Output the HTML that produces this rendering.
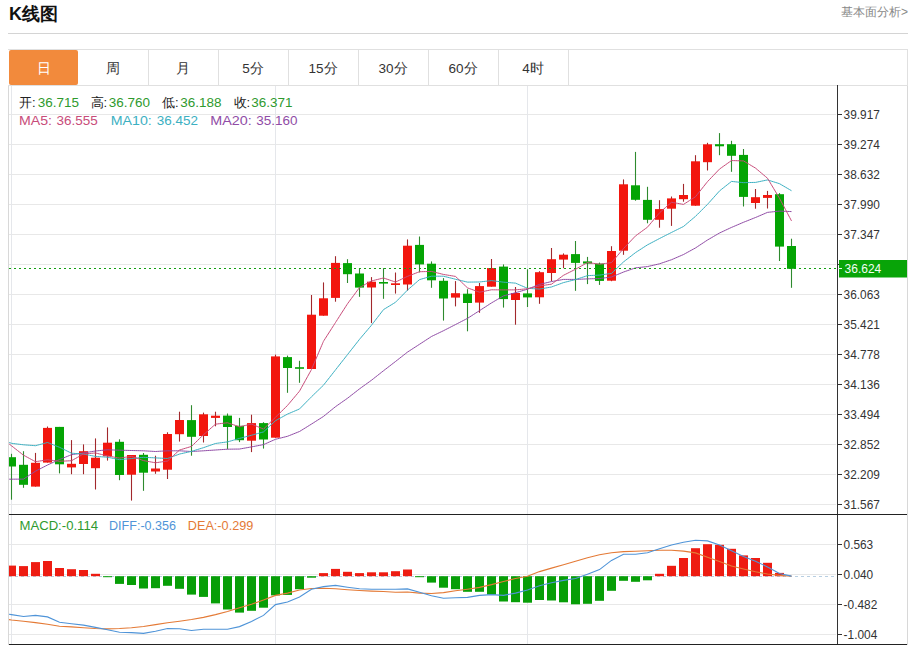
<!DOCTYPE html>
<html><head><meta charset="utf-8"><style>
html,body{margin:0;padding:0;background:#fff;width:910px;height:646px;overflow:hidden;position:relative;font-family:"Liberation Sans",sans-serif}
.title{position:absolute;left:9px;top:2px;font-size:18px;font-weight:bold;color:#111;line-height:24px}
.more{position:absolute;right:2px;top:3.6px;font-size:12px;color:#888;line-height:16px}
.hr{position:absolute;left:8px;top:33px;width:900px;height:1px;background:#d4d4d4}
.tabs{position:absolute;left:8px;top:49px;width:899px;height:35px;border:1px solid #e0e0e0;border-left:none}
.tab{position:absolute;top:0;height:35px;width:70px;border-right:1px solid #e0e0e0;text-align:center;line-height:37.5px;font-size:13.5px;color:#333}
.tab.on{background:#f28a3c;color:#fff;border-radius:2px;border-right:none}
.panel{position:absolute;left:8px;top:85px;width:898px;height:560px;border-left:1px solid #d8d8d8;border-right:1px solid #d8d8d8}
.info{position:absolute;left:19px;font-size:13px;line-height:16px;white-space:nowrap}
.k{color:#222} .g{color:#2e9a2e}
</style></head><body>
<div class="title">K线图</div>
<div class="more">基本面分析&gt;</div>
<div class="hr"></div>
<div class="panel"></div>
<div class="tabs">
<div class="tab on" style="left:1px;width:69px">日</div>
<div class="tab" style="left:70px">周</div>
<div class="tab" style="left:140px">月</div>
<div class="tab" style="left:210px">5分</div>
<div class="tab" style="left:280px">15分</div>
<div class="tab" style="left:350px">30分</div>
<div class="tab" style="left:420px">60分</div>
<div class="tab" style="left:490px">4时</div>
</div>
<svg width="910" height="646" style="position:absolute;left:0;top:0"><defs><clipPath id="cm"><rect x="9" y="86" width="828" height="428"/></clipPath><clipPath id="cd"><rect x="9" y="515" width="828" height="129"/></clipPath></defs><line x1="9" y1="114.5" x2="836" y2="114.5" stroke="#e8e8e8" stroke-width="1"/><line x1="9" y1="144.5" x2="836" y2="144.5" stroke="#e8e8e8" stroke-width="1"/><line x1="9" y1="174.5" x2="836" y2="174.5" stroke="#e8e8e8" stroke-width="1"/><line x1="9" y1="204.5" x2="836" y2="204.5" stroke="#e8e8e8" stroke-width="1"/><line x1="9" y1="234.5" x2="836" y2="234.5" stroke="#e8e8e8" stroke-width="1"/><line x1="9" y1="264.5" x2="836" y2="264.5" stroke="#e8e8e8" stroke-width="1"/><line x1="9" y1="294.5" x2="836" y2="294.5" stroke="#e8e8e8" stroke-width="1"/><line x1="9" y1="324.5" x2="836" y2="324.5" stroke="#e8e8e8" stroke-width="1"/><line x1="9" y1="354.5" x2="836" y2="354.5" stroke="#e8e8e8" stroke-width="1"/><line x1="9" y1="384.5" x2="836" y2="384.5" stroke="#e8e8e8" stroke-width="1"/><line x1="9" y1="414.5" x2="836" y2="414.5" stroke="#e8e8e8" stroke-width="1"/><line x1="9" y1="444.5" x2="836" y2="444.5" stroke="#e8e8e8" stroke-width="1"/><line x1="9" y1="474.5" x2="836" y2="474.5" stroke="#e8e8e8" stroke-width="1"/><line x1="9" y1="504.5" x2="836" y2="504.5" stroke="#e8e8e8" stroke-width="1"/><line x1="9" y1="544.5" x2="836" y2="544.5" stroke="#e8e8e8" stroke-width="1"/><line x1="9" y1="574.5" x2="836" y2="574.5" stroke="#e8e8e8" stroke-width="1"/><line x1="9" y1="604.5" x2="836" y2="604.5" stroke="#e8e8e8" stroke-width="1"/><line x1="9" y1="634.5" x2="836" y2="634.5" stroke="#e8e8e8" stroke-width="1"/><line x1="11.5" y1="86" x2="11.5" y2="644" stroke="#e5e7eb" stroke-width="1"/><line x1="275.5" y1="86" x2="275.5" y2="644" stroke="#e5e7eb" stroke-width="1"/><line x1="527.5" y1="86" x2="527.5" y2="644" stroke="#e5e7eb" stroke-width="1"/><g clip-path="url(#cm)"><line x1="11.5" y1="453.8" x2="11.5" y2="499.7" stroke="#2e8a2e" stroke-width="1.1"/><rect x="7.0" y="457.2" width="9" height="9.3" fill="#04a404"/><line x1="23.5" y1="451.2" x2="23.5" y2="487.8" stroke="#2e8a2e" stroke-width="1.1"/><rect x="19.0" y="464.8" width="9" height="20.0" fill="#04a404"/><line x1="35.5" y1="452.9" x2="35.5" y2="486.6" stroke="#a2282c" stroke-width="1.1"/><rect x="31.0" y="462.8" width="9" height="23.8" fill="#f2160e"/><line x1="47.5" y1="426.5" x2="47.5" y2="462.6" stroke="#a2282c" stroke-width="1.1"/><rect x="43.0" y="427.9" width="9" height="34.7" fill="#f2160e"/><line x1="59.5" y1="426.9" x2="59.5" y2="473.4" stroke="#2e8a2e" stroke-width="1.1"/><rect x="55.0" y="426.9" width="9" height="37.4" fill="#04a404"/><line x1="71.5" y1="440.1" x2="71.5" y2="474.2" stroke="#a2282c" stroke-width="1.1"/><rect x="67.0" y="463.8" width="9" height="3.6" fill="#f2160e"/><line x1="83.5" y1="444.4" x2="83.5" y2="474.2" stroke="#a2282c" stroke-width="1.1"/><rect x="79.0" y="451.2" width="9" height="12.8" fill="#f2160e"/><line x1="95.5" y1="438.4" x2="95.5" y2="489.5" stroke="#a2282c" stroke-width="1.1"/><rect x="91.0" y="457.7" width="9" height="10.5" fill="#f2160e"/><line x1="107.5" y1="427.4" x2="107.5" y2="460.6" stroke="#a2282c" stroke-width="1.1"/><rect x="103.0" y="442.7" width="9" height="13.6" fill="#f2160e"/><line x1="119.5" y1="439.3" x2="119.5" y2="480.2" stroke="#2e8a2e" stroke-width="1.1"/><rect x="115.0" y="441.8" width="9" height="33.2" fill="#04a404"/><line x1="131.5" y1="455.0" x2="131.5" y2="500.6" stroke="#a2282c" stroke-width="1.1"/><rect x="127.0" y="455.0" width="9" height="19.7" fill="#f2160e"/><line x1="143.5" y1="453.0" x2="143.5" y2="490.8" stroke="#2e8a2e" stroke-width="1.1"/><rect x="139.0" y="454.8" width="9" height="17.9" fill="#04a404"/><line x1="155.5" y1="455.7" x2="155.5" y2="473.8" stroke="#a2282c" stroke-width="1.1"/><rect x="151.0" y="468.5" width="9" height="3.0" fill="#f2160e"/><line x1="167.5" y1="432.3" x2="167.5" y2="479.0" stroke="#a2282c" stroke-width="1.1"/><rect x="163.0" y="434.0" width="9" height="35.7" fill="#f2160e"/><line x1="179.5" y1="411.7" x2="179.5" y2="441.6" stroke="#a2282c" stroke-width="1.1"/><rect x="175.0" y="420.0" width="9" height="14.2" fill="#f2160e"/><line x1="191.5" y1="405.2" x2="191.5" y2="455.7" stroke="#2e8a2e" stroke-width="1.1"/><rect x="187.0" y="420.1" width="9" height="16.7" fill="#04a404"/><line x1="203.5" y1="412.6" x2="203.5" y2="442.5" stroke="#a2282c" stroke-width="1.1"/><rect x="199.0" y="414.3" width="9" height="21.7" fill="#f2160e"/><line x1="215.5" y1="411.7" x2="215.5" y2="426.3" stroke="#a2282c" stroke-width="1.1"/><rect x="211.0" y="415.7" width="9" height="2.2" fill="#f2160e"/><line x1="227.5" y1="413.5" x2="227.5" y2="449.2" stroke="#2e8a2e" stroke-width="1.1"/><rect x="223.0" y="415.6" width="9" height="11.4" fill="#04a404"/><line x1="239.5" y1="417.9" x2="239.5" y2="442.1" stroke="#2e8a2e" stroke-width="1.1"/><rect x="235.0" y="425.8" width="9" height="14.4" fill="#04a404"/><line x1="251.5" y1="414.7" x2="251.5" y2="452.1" stroke="#a2282c" stroke-width="1.1"/><rect x="247.0" y="423.1" width="9" height="17.6" fill="#f2160e"/><line x1="263.5" y1="422.2" x2="263.5" y2="448.6" stroke="#2e8a2e" stroke-width="1.1"/><rect x="259.0" y="423.1" width="9" height="16.4" fill="#04a404"/><line x1="275.5" y1="354.6" x2="275.5" y2="437.7" stroke="#a2282c" stroke-width="1.1"/><rect x="271.0" y="356.4" width="9" height="81.3" fill="#f2160e"/><line x1="287.5" y1="355.6" x2="287.5" y2="392.8" stroke="#2e8a2e" stroke-width="1.1"/><rect x="283.0" y="357.1" width="9" height="10.9" fill="#04a404"/><line x1="299.5" y1="360.8" x2="299.5" y2="382.8" stroke="#2e8a2e" stroke-width="1.1"/><rect x="295.0" y="367.2" width="9" height="1.6" fill="#04a404"/><line x1="311.5" y1="295.0" x2="311.5" y2="369.0" stroke="#a2282c" stroke-width="1.1"/><rect x="307.0" y="314.7" width="9" height="54.3" fill="#f2160e"/><line x1="323.5" y1="282.4" x2="323.5" y2="315.7" stroke="#a2282c" stroke-width="1.1"/><rect x="319.0" y="298.3" width="9" height="17.4" fill="#f2160e"/><line x1="335.5" y1="256.2" x2="335.5" y2="301.7" stroke="#a2282c" stroke-width="1.1"/><rect x="331.0" y="262.9" width="9" height="35.0" fill="#f2160e"/><line x1="347.5" y1="259.2" x2="347.5" y2="283.0" stroke="#2e8a2e" stroke-width="1.1"/><rect x="343.0" y="263.1" width="9" height="11.1" fill="#04a404"/><line x1="359.5" y1="268.1" x2="359.5" y2="296.8" stroke="#2e8a2e" stroke-width="1.1"/><rect x="355.0" y="273.5" width="9" height="14.1" fill="#04a404"/><line x1="371.5" y1="277.1" x2="371.5" y2="323.1" stroke="#a2282c" stroke-width="1.1"/><rect x="367.0" y="281.7" width="9" height="5.8" fill="#f2160e"/><line x1="383.5" y1="268.1" x2="383.5" y2="298.8" stroke="#2e8a2e" stroke-width="1.1"/><rect x="379.0" y="282.0" width="9" height="1.6" fill="#04a404"/><line x1="395.5" y1="272.5" x2="395.5" y2="293.6" stroke="#a2282c" stroke-width="1.1"/><rect x="391.0" y="283.3" width="9" height="1.7" fill="#f2160e"/><line x1="407.5" y1="239.4" x2="407.5" y2="290.7" stroke="#a2282c" stroke-width="1.1"/><rect x="403.0" y="245.7" width="9" height="38.8" fill="#f2160e"/><line x1="419.5" y1="236.5" x2="419.5" y2="272.4" stroke="#2e8a2e" stroke-width="1.1"/><rect x="415.0" y="244.9" width="9" height="19.5" fill="#04a404"/><line x1="431.5" y1="261.4" x2="431.5" y2="287.8" stroke="#2e8a2e" stroke-width="1.1"/><rect x="427.0" y="263.7" width="9" height="16.6" fill="#04a404"/><line x1="443.5" y1="278.1" x2="443.5" y2="320.6" stroke="#2e8a2e" stroke-width="1.1"/><rect x="439.0" y="280.8" width="9" height="17.7" fill="#04a404"/><line x1="455.5" y1="281.1" x2="455.5" y2="306.4" stroke="#a2282c" stroke-width="1.1"/><rect x="451.0" y="293.2" width="9" height="4.4" fill="#f2160e"/><line x1="467.5" y1="289.2" x2="467.5" y2="331.3" stroke="#2e8a2e" stroke-width="1.1"/><rect x="463.0" y="293.7" width="9" height="9.3" fill="#04a404"/><line x1="479.5" y1="283.0" x2="479.5" y2="312.8" stroke="#a2282c" stroke-width="1.1"/><rect x="475.0" y="286.1" width="9" height="16.5" fill="#f2160e"/><line x1="491.5" y1="259.0" x2="491.5" y2="286.7" stroke="#a2282c" stroke-width="1.1"/><rect x="487.0" y="268.1" width="9" height="18.6" fill="#f2160e"/><line x1="503.5" y1="264.4" x2="503.5" y2="307.6" stroke="#2e8a2e" stroke-width="1.1"/><rect x="499.0" y="266.6" width="9" height="32.5" fill="#04a404"/><line x1="515.5" y1="287.0" x2="515.5" y2="324.7" stroke="#a2282c" stroke-width="1.1"/><rect x="511.0" y="293.0" width="9" height="7.0" fill="#f2160e"/><line x1="527.5" y1="269.3" x2="527.5" y2="307.0" stroke="#2e8a2e" stroke-width="1.1"/><rect x="523.0" y="293.4" width="9" height="4.0" fill="#04a404"/><line x1="539.5" y1="271.2" x2="539.5" y2="303.8" stroke="#a2282c" stroke-width="1.1"/><rect x="535.0" y="272.2" width="9" height="25.1" fill="#f2160e"/><line x1="551.5" y1="248.0" x2="551.5" y2="281.2" stroke="#a2282c" stroke-width="1.1"/><rect x="547.0" y="259.2" width="9" height="13.8" fill="#f2160e"/><line x1="563.5" y1="253.4" x2="563.5" y2="268.2" stroke="#a2282c" stroke-width="1.1"/><rect x="559.0" y="254.7" width="9" height="4.9" fill="#f2160e"/><line x1="575.5" y1="241.0" x2="575.5" y2="290.8" stroke="#2e8a2e" stroke-width="1.1"/><rect x="571.0" y="254.1" width="9" height="8.8" fill="#04a404"/><line x1="587.5" y1="256.9" x2="587.5" y2="284.1" stroke="#2e8a2e" stroke-width="1.1"/><rect x="583.0" y="261.4" width="9" height="2.2" fill="#04a404"/><line x1="599.5" y1="262.6" x2="599.5" y2="284.9" stroke="#2e8a2e" stroke-width="1.1"/><rect x="595.0" y="263.6" width="9" height="17.3" fill="#04a404"/><line x1="611.5" y1="246.2" x2="611.5" y2="281.2" stroke="#a2282c" stroke-width="1.1"/><rect x="607.0" y="251.0" width="9" height="29.7" fill="#f2160e"/><line x1="623.5" y1="179.4" x2="623.5" y2="254.8" stroke="#a2282c" stroke-width="1.1"/><rect x="619.0" y="184.3" width="9" height="66.4" fill="#f2160e"/><line x1="635.5" y1="151.9" x2="635.5" y2="200.7" stroke="#2e8a2e" stroke-width="1.1"/><rect x="631.0" y="185.3" width="9" height="14.5" fill="#04a404"/><line x1="647.5" y1="186.8" x2="647.5" y2="223.3" stroke="#2e8a2e" stroke-width="1.1"/><rect x="643.0" y="199.9" width="9" height="19.9" fill="#04a404"/><line x1="659.5" y1="200.2" x2="659.5" y2="227.7" stroke="#a2282c" stroke-width="1.1"/><rect x="655.0" y="209.1" width="9" height="10.7" fill="#f2160e"/><line x1="671.5" y1="196.5" x2="671.5" y2="225.9" stroke="#a2282c" stroke-width="1.1"/><rect x="667.0" y="198.4" width="9" height="10.3" fill="#f2160e"/><line x1="683.5" y1="183.9" x2="683.5" y2="201.7" stroke="#a2282c" stroke-width="1.1"/><rect x="679.0" y="195.0" width="9" height="4.2" fill="#f2160e"/><line x1="695.5" y1="155.2" x2="695.5" y2="205.7" stroke="#a2282c" stroke-width="1.1"/><rect x="691.0" y="161.3" width="9" height="44.4" fill="#f2160e"/><line x1="707.5" y1="142.8" x2="707.5" y2="170.5" stroke="#a2282c" stroke-width="1.1"/><rect x="703.0" y="144.3" width="9" height="17.9" fill="#f2160e"/><line x1="719.5" y1="133.1" x2="719.5" y2="155.2" stroke="#2e8a2e" stroke-width="1.1"/><rect x="715.0" y="144.2" width="9" height="2.1" fill="#04a404"/><line x1="731.5" y1="140.8" x2="731.5" y2="171.8" stroke="#2e8a2e" stroke-width="1.1"/><rect x="727.0" y="144.2" width="9" height="11.6" fill="#04a404"/><line x1="743.5" y1="149.0" x2="743.5" y2="206.5" stroke="#2e8a2e" stroke-width="1.1"/><rect x="739.0" y="154.9" width="9" height="42.0" fill="#04a404"/><line x1="755.5" y1="189.0" x2="755.5" y2="208.7" stroke="#a2282c" stroke-width="1.1"/><rect x="751.0" y="197.2" width="9" height="5.8" fill="#f2160e"/><line x1="767.5" y1="190.9" x2="767.5" y2="208.5" stroke="#a2282c" stroke-width="1.1"/><rect x="763.0" y="195.0" width="9" height="2.9" fill="#f2160e"/><line x1="779.5" y1="193.1" x2="779.5" y2="261.0" stroke="#2e8a2e" stroke-width="1.1"/><rect x="775.0" y="194.2" width="9" height="52.4" fill="#04a404"/><line x1="791.5" y1="238.7" x2="791.5" y2="287.8" stroke="#2e8a2e" stroke-width="1.1"/><rect x="787.0" y="246.0" width="9" height="22.8" fill="#04a404"/><path d="M-0.50,479.20 C-0.50,479.20 11.50,479.20 11.50,479.20 C11.50,479.20 23.50,479.10 23.50,479.10 C23.50,479.10 35.50,471.20 35.50,471.20 C35.50,471.20 47.50,465.00 47.50,465.00 C47.50,465.00 59.50,459.50 59.50,459.50 C59.50,459.50 71.50,454.70 71.50,454.70 C71.50,454.70 83.50,452.90 83.50,452.90 C83.50,452.90 95.50,451.00 95.50,451.00 C95.50,451.00 107.50,449.80 107.50,449.80 C107.50,449.80 119.50,450.20 119.50,450.20 C119.50,450.20 131.50,450.50 131.50,450.50 C131.50,450.50 143.50,450.80 143.50,450.80 C143.50,450.80 155.50,451.50 155.50,451.50 C155.50,451.50 167.50,450.80 167.50,450.80 C167.50,450.80 179.50,450.80 179.50,450.80 C179.50,450.80 191.50,451.50 191.50,451.50 C191.50,451.50 203.50,450.80 203.50,450.80 C203.50,450.80 215.50,450.00 215.50,450.00 C215.50,450.00 227.50,449.20 227.50,449.20 C227.50,449.20 239.50,449.04 239.50,449.04 C239.50,449.04 251.50,446.88 251.50,446.88 C251.50,446.88 263.50,444.61 263.50,444.61 C263.50,444.61 275.50,439.29 275.50,439.29 C275.50,439.29 287.50,436.29 287.50,436.29 C287.50,436.29 299.50,431.51 299.50,431.51 C299.50,431.51 311.50,424.06 311.50,424.06 C311.50,424.06 323.50,416.41 323.50,416.41 C323.50,416.41 335.50,406.68 335.50,406.68 C335.50,406.68 347.50,398.25 347.50,398.25 C347.50,398.25 359.50,388.88 359.50,388.88 C359.50,388.88 371.50,380.22 371.50,380.22 C371.50,380.22 383.50,370.75 383.50,370.75 C383.50,370.75 395.50,361.50 395.50,361.50 C395.50,361.50 407.50,352.08 407.50,352.08 C407.50,352.08 419.50,344.30 419.50,344.30 C419.50,344.30 431.50,336.48 431.50,336.48 C431.50,336.48 443.50,330.69 443.50,330.69 C443.50,330.69 455.50,324.56 455.50,324.56 C455.50,324.56 467.50,318.36 467.50,318.36 C467.50,318.36 479.50,310.66 479.50,310.66 C479.50,310.66 491.50,302.91 491.50,302.91 C491.50,302.91 503.50,295.88 503.50,295.88 C503.50,295.88 515.50,292.72 515.50,292.72 C515.50,292.72 527.50,289.19 527.50,289.19 C527.50,289.19 539.50,284.36 539.50,284.36 C539.50,284.36 551.50,281.58 551.50,281.58 C551.50,281.58 563.50,279.41 563.50,279.41 C563.50,279.41 575.50,279.41 575.50,279.41 C575.50,279.41 587.50,278.88 587.50,278.88 C587.50,278.88 599.50,278.54 599.50,278.54 C599.50,278.54 611.50,277.00 611.50,277.00 C611.50,277.00 623.50,272.04 623.50,272.04 C623.50,272.04 635.50,267.87 635.50,267.87 C635.50,267.87 647.50,266.57 647.50,266.57 C647.50,266.57 659.50,263.81 659.50,263.81 C659.50,263.81 671.50,259.72 671.50,259.72 C671.50,259.72 683.50,254.54 683.50,254.54 C683.50,254.54 695.50,247.94 695.50,247.94 C695.50,247.94 707.50,240.01 707.50,240.01 C707.50,240.01 719.50,233.02 719.50,233.02 C719.50,233.02 731.50,227.41 731.50,227.41 C731.50,227.41 743.50,222.29 743.50,222.29 C743.50,222.29 755.50,217.51 755.50,217.51 C755.50,217.51 767.50,212.38 767.50,212.38 C767.50,212.38 779.50,211.11 779.50,211.11 C779.50,211.11 791.50,211.58 791.50,211.58" fill="none" stroke="#904ca6" stroke-width="1"/><path d="M-0.50,439.00 C-0.50,439.00 11.50,443.30 11.50,443.30 C11.50,443.30 23.50,444.80 23.50,444.80 C23.50,444.80 35.50,445.70 35.50,445.70 C35.50,445.70 47.50,442.50 47.50,442.50 C47.50,442.50 59.50,447.30 59.50,447.30 C59.50,447.30 71.50,453.20 71.50,453.20 C71.50,453.20 83.50,454.10 83.50,454.10 C83.50,454.10 95.50,456.40 95.50,456.40 C95.50,456.40 107.50,457.20 107.50,457.20 C107.50,457.20 119.50,459.67 119.50,459.67 C119.50,459.67 131.50,458.52 131.50,458.52 C131.50,458.52 143.50,457.31 143.50,457.31 C143.50,457.31 155.50,457.88 155.50,457.88 C155.50,457.88 167.50,458.49 167.50,458.49 C167.50,458.49 179.50,454.06 179.50,454.06 C179.50,454.06 191.50,451.36 191.50,451.36 C191.50,451.36 203.50,447.67 203.50,447.67 C203.50,447.67 215.50,443.47 215.50,443.47 C215.50,443.47 227.50,441.90 227.50,441.90 C227.50,441.90 239.50,438.42 239.50,438.42 C239.50,438.42 251.50,435.23 251.50,435.23 C251.50,435.23 263.50,431.91 263.50,431.91 C263.50,431.91 275.50,420.70 275.50,420.70 C275.50,420.70 287.50,414.10 287.50,414.10 C287.50,414.10 299.50,408.97 299.50,408.97 C299.50,408.97 311.50,396.76 311.50,396.76 C311.50,396.76 323.50,385.16 323.50,385.16 C323.50,385.16 335.50,369.88 335.50,369.88 C335.50,369.88 347.50,354.60 347.50,354.60 C347.50,354.60 359.50,339.34 359.50,339.34 C359.50,339.34 371.50,325.20 371.50,325.20 C371.50,325.20 383.50,309.60 383.50,309.60 C383.50,309.60 395.50,302.29 395.50,302.29 C395.50,302.29 407.50,290.06 407.50,290.06 C407.50,290.06 419.50,279.63 419.50,279.63 C419.50,279.63 431.50,276.19 431.50,276.19 C431.50,276.19 443.50,276.21 443.50,276.21 C443.50,276.21 455.50,279.24 455.50,279.24 C455.50,279.24 467.50,282.12 467.50,282.12 C467.50,282.12 479.50,281.97 479.50,281.97 C479.50,281.97 491.50,280.61 491.50,280.61 C491.50,280.61 503.50,282.17 503.50,282.17 C503.50,282.17 515.50,283.14 515.50,283.14 C515.50,283.14 527.50,288.31 527.50,288.31 C527.50,288.31 539.50,289.09 539.50,289.09 C539.50,289.09 551.50,286.98 551.50,286.98 C551.50,286.98 563.50,282.60 563.50,282.60 C563.50,282.60 575.50,279.57 575.50,279.57 C575.50,279.57 587.50,275.63 587.50,275.63 C587.50,275.63 599.50,275.11 599.50,275.11 C599.50,275.11 611.50,273.40 611.50,273.40 C611.50,273.40 623.50,261.92 623.50,261.92 C623.50,261.92 635.50,252.60 635.50,252.60 C635.50,252.60 647.50,244.84 647.50,244.84 C647.50,244.84 659.50,238.53 659.50,238.53 C659.50,238.53 671.50,232.45 671.50,232.45 C671.50,232.45 683.50,226.48 683.50,226.48 C683.50,226.48 695.50,216.32 695.50,216.32 C695.50,216.32 707.50,204.39 707.50,204.39 C707.50,204.39 719.50,190.93 719.50,190.93 C719.50,190.93 731.50,181.41 731.50,181.41 C731.50,181.41 743.50,182.67 743.50,182.67 C743.50,182.67 755.50,182.41 755.50,182.41 C755.50,182.41 767.50,179.93 767.50,179.93 C767.50,179.93 779.50,183.68 779.50,183.68 C779.50,183.68 791.50,190.72 791.50,190.72" fill="none" stroke="#3cb0c2" stroke-width="1"/><path d="M-0.50,436.30 C-0.50,436.30 11.50,445.80 11.50,445.80 C11.50,445.80 23.50,455.20 23.50,455.20 C23.50,455.20 35.50,461.70 35.50,461.70 C35.50,461.70 47.50,459.80 47.50,459.80 C47.50,459.80 59.50,461.26 59.50,461.26 C59.50,461.26 71.50,460.72 71.50,460.72 C71.50,460.72 83.50,454.00 83.50,454.00 C83.50,454.00 95.50,452.98 95.50,452.98 C95.50,452.98 107.50,455.94 107.50,455.94 C107.50,455.94 119.50,458.08 119.50,458.08 C119.50,458.08 131.50,456.32 131.50,456.32 C131.50,456.32 143.50,460.62 143.50,460.62 C143.50,460.62 155.50,462.78 155.50,462.78 C155.50,462.78 167.50,461.04 167.50,461.04 C167.50,461.04 179.50,450.04 179.50,450.04 C179.50,450.04 191.50,446.40 191.50,446.40 C191.50,446.40 203.50,434.72 203.50,434.72 C203.50,434.72 215.50,424.16 215.50,424.16 C215.50,424.16 227.50,422.76 227.50,422.76 C227.50,422.76 239.50,426.80 239.50,426.80 C239.50,426.80 251.50,424.06 251.50,424.06 C251.50,424.06 263.50,429.10 263.50,429.10 C263.50,429.10 275.50,417.24 275.50,417.24 C275.50,417.24 287.50,405.44 287.50,405.44 C287.50,405.44 299.50,391.14 299.50,391.14 C299.50,391.14 311.50,369.46 311.50,369.46 C311.50,369.46 323.50,341.22 323.50,341.22 C323.50,341.22 335.50,322.52 335.50,322.52 C335.50,322.52 347.50,303.76 347.50,303.76 C347.50,303.76 359.50,287.54 359.50,287.54 C359.50,287.54 371.50,280.94 371.50,280.94 C371.50,280.94 383.50,277.98 383.50,277.98 C383.50,277.98 395.50,282.06 395.50,282.06 C395.50,282.06 407.50,276.36 407.50,276.36 C407.50,276.36 419.50,271.72 419.50,271.72 C419.50,271.72 431.50,271.44 431.50,271.44 C431.50,271.44 443.50,274.44 443.50,274.44 C443.50,274.44 455.50,276.42 455.50,276.42 C455.50,276.42 467.50,287.88 467.50,287.88 C467.50,287.88 479.50,292.22 479.50,292.22 C479.50,292.22 491.50,289.78 491.50,289.78 C491.50,289.78 503.50,289.90 503.50,289.90 C503.50,289.90 515.50,289.86 515.50,289.86 C515.50,289.86 527.50,288.74 527.50,288.74 C527.50,288.74 539.50,285.96 539.50,285.96 C539.50,285.96 551.50,284.18 551.50,284.18 C551.50,284.18 563.50,275.30 563.50,275.30 C563.50,275.30 575.50,269.28 575.50,269.28 C575.50,269.28 587.50,262.52 587.50,262.52 C587.50,262.52 599.50,264.26 599.50,264.26 C599.50,264.26 611.50,262.62 611.50,262.62 C611.50,262.62 623.50,248.54 623.50,248.54 C623.50,248.54 635.50,235.92 635.50,235.92 C635.50,235.92 647.50,227.16 647.50,227.16 C647.50,227.16 659.50,212.80 659.50,212.80 C659.50,212.80 671.50,202.28 671.50,202.28 C671.50,202.28 683.50,204.42 683.50,204.42 C683.50,204.42 695.50,196.72 695.50,196.72 C695.50,196.72 707.50,181.62 707.50,181.62 C707.50,181.62 719.50,169.06 719.50,169.06 C719.50,169.06 731.50,160.54 731.50,160.54 C731.50,160.54 743.50,160.92 743.50,160.92 C743.50,160.92 755.50,168.10 755.50,168.10 C755.50,168.10 767.50,178.24 767.50,178.24 C767.50,178.24 779.50,198.30 779.50,198.30 C779.50,198.30 791.50,220.90 791.50,220.90" fill="none" stroke="#c84c7a" stroke-width="1"/></g><line x1="9" y1="268.5" x2="837" y2="268.5" stroke="#12a012" stroke-width="1" stroke-dasharray="2,3"/><line x1="9" y1="576.5" x2="837" y2="576.5" stroke="#b8cfe2" stroke-width="1" stroke-dasharray="3,3"/><g clip-path="url(#cd)"><rect x="7.0" y="565.6" width="9" height="10.6" fill="#ee1c12"/><rect x="19.0" y="566.1" width="9" height="10.1" fill="#ee1c12"/><rect x="31.0" y="562.1" width="9" height="14.1" fill="#ee1c12"/><rect x="43.0" y="561.0" width="9" height="15.2" fill="#ee1c12"/><rect x="55.0" y="568.0" width="9" height="8.2" fill="#ee1c12"/><rect x="67.0" y="569.2" width="9" height="7.0" fill="#ee1c12"/><rect x="79.0" y="570.0" width="9" height="6.2" fill="#ee1c12"/><rect x="91.0" y="573.8" width="9" height="2.4" fill="#ee1c12"/><rect x="103.0" y="576.2" width="9" height="1.0" fill="#079e07"/><rect x="115.0" y="576.2" width="9" height="7.7" fill="#079e07"/><rect x="127.0" y="576.2" width="9" height="8.8" fill="#079e07"/><rect x="139.0" y="576.2" width="9" height="12.3" fill="#079e07"/><rect x="151.0" y="576.2" width="9" height="12.0" fill="#079e07"/><rect x="163.0" y="576.2" width="9" height="9.6" fill="#079e07"/><rect x="175.0" y="576.2" width="9" height="12.6" fill="#079e07"/><rect x="187.0" y="576.2" width="9" height="18.4" fill="#079e07"/><rect x="199.0" y="576.2" width="9" height="20.7" fill="#079e07"/><rect x="211.0" y="576.2" width="9" height="27.2" fill="#079e07"/><rect x="223.0" y="576.2" width="9" height="33.3" fill="#079e07"/><rect x="235.0" y="576.2" width="9" height="36.4" fill="#079e07"/><rect x="247.0" y="576.2" width="9" height="34.6" fill="#079e07"/><rect x="259.0" y="576.2" width="9" height="31.5" fill="#079e07"/><rect x="271.0" y="576.2" width="9" height="19.2" fill="#079e07"/><rect x="283.0" y="576.2" width="9" height="18.7" fill="#079e07"/><rect x="295.0" y="576.2" width="9" height="13.0" fill="#079e07"/><rect x="307.0" y="576.2" width="9" height="1.5" fill="#079e07"/><rect x="319.0" y="573.1" width="9" height="3.1" fill="#ee1c12"/><rect x="331.0" y="568.9" width="9" height="7.3" fill="#ee1c12"/><rect x="343.0" y="571.8" width="9" height="4.4" fill="#ee1c12"/><rect x="355.0" y="573.1" width="9" height="3.1" fill="#ee1c12"/><rect x="367.0" y="572.3" width="9" height="3.9" fill="#ee1c12"/><rect x="379.0" y="572.3" width="9" height="3.9" fill="#ee1c12"/><rect x="391.0" y="571.2" width="9" height="5.0" fill="#ee1c12"/><rect x="403.0" y="569.5" width="9" height="6.7" fill="#ee1c12"/><rect x="415.0" y="576.2" width="9" height="1.0" fill="#079e07"/><rect x="427.0" y="576.2" width="9" height="6.4" fill="#079e07"/><rect x="439.0" y="576.2" width="9" height="11.5" fill="#079e07"/><rect x="451.0" y="576.2" width="9" height="13.0" fill="#079e07"/><rect x="463.0" y="576.2" width="9" height="15.6" fill="#079e07"/><rect x="475.0" y="576.2" width="9" height="15.6" fill="#079e07"/><rect x="487.0" y="576.2" width="9" height="18.4" fill="#079e07"/><rect x="499.0" y="576.2" width="9" height="25.3" fill="#079e07"/><rect x="511.0" y="576.2" width="9" height="26.0" fill="#079e07"/><rect x="523.0" y="576.2" width="9" height="26.5" fill="#079e07"/><rect x="535.0" y="576.2" width="9" height="23.8" fill="#079e07"/><rect x="547.0" y="576.2" width="9" height="24.3" fill="#079e07"/><rect x="559.0" y="576.2" width="9" height="26.1" fill="#079e07"/><rect x="571.0" y="576.2" width="9" height="28.1" fill="#079e07"/><rect x="583.0" y="576.2" width="9" height="27.6" fill="#079e07"/><rect x="595.0" y="576.2" width="9" height="24.6" fill="#079e07"/><rect x="607.0" y="576.2" width="9" height="14.6" fill="#079e07"/><rect x="619.0" y="576.2" width="9" height="4.6" fill="#079e07"/><rect x="631.0" y="576.2" width="9" height="5.6" fill="#079e07"/><rect x="643.0" y="576.2" width="9" height="4.1" fill="#079e07"/><rect x="655.0" y="573.8" width="9" height="2.4" fill="#ee1c12"/><rect x="667.0" y="565.8" width="9" height="10.4" fill="#ee1c12"/><rect x="679.0" y="558.0" width="9" height="18.2" fill="#ee1c12"/><rect x="691.0" y="548.2" width="9" height="28.0" fill="#ee1c12"/><rect x="703.0" y="544.2" width="9" height="32.0" fill="#ee1c12"/><rect x="715.0" y="544.8" width="9" height="31.4" fill="#ee1c12"/><rect x="727.0" y="548.8" width="9" height="27.4" fill="#ee1c12"/><rect x="739.0" y="555.4" width="9" height="20.8" fill="#ee1c12"/><rect x="751.0" y="558.0" width="9" height="18.2" fill="#ee1c12"/><rect x="763.0" y="562.8" width="9" height="13.4" fill="#ee1c12"/><rect x="775.0" y="572.9" width="9" height="3.3" fill="#ee1c12"/><path d="M-0.50,618.20 C-0.50,618.20 11.50,620.00 11.50,620.00 C11.50,620.00 23.50,621.20 23.50,621.20 C23.50,621.20 35.50,622.60 35.50,622.60 C35.50,622.60 47.50,624.20 47.50,624.20 C47.50,624.20 59.50,626.20 59.50,626.20 C59.50,626.20 71.50,626.90 71.50,626.90 C71.50,626.90 83.50,627.70 83.50,627.70 C83.50,627.70 95.50,628.50 95.50,628.50 C95.50,628.50 107.50,628.90 107.50,628.90 C107.50,628.90 119.50,628.50 119.50,628.50 C119.50,628.50 131.50,627.70 131.50,627.70 C131.50,627.70 143.50,626.50 143.50,626.50 C143.50,626.50 155.50,624.60 155.50,624.60 C155.50,624.60 167.50,622.80 167.50,622.80 C167.50,622.80 179.50,621.20 179.50,621.20 C179.50,621.20 191.50,619.50 191.50,619.50 C191.50,619.50 203.50,617.40 203.50,617.40 C203.50,617.40 215.50,614.60 215.50,614.60 C215.50,614.60 227.50,611.50 227.50,611.50 C227.50,611.50 239.50,607.70 239.50,607.70 C239.50,607.70 251.50,604.20 251.50,604.20 C251.50,604.20 263.50,600.00 263.50,600.00 C263.50,600.00 275.50,595.40 275.50,595.40 C275.50,595.40 287.50,593.10 287.50,593.10 C287.50,593.10 299.50,590.00 299.50,590.00 C299.50,590.00 311.50,588.50 311.50,588.50 C311.50,588.50 323.50,588.20 323.50,588.20 C323.50,588.20 335.50,588.80 335.50,588.80 C335.50,588.80 347.50,589.70 347.50,589.70 C347.50,589.70 359.50,590.50 359.50,590.50 C359.50,590.50 371.50,591.10 371.50,591.10 C371.50,591.10 383.50,591.50 383.50,591.50 C383.50,591.50 395.50,592.30 395.50,592.30 C395.50,592.30 407.50,592.00 407.50,592.00 C407.50,592.00 419.50,593.10 419.50,593.10 C419.50,593.10 431.50,593.50 431.50,593.50 C431.50,593.50 443.50,592.60 443.50,592.60 C443.50,592.60 455.50,590.80 455.50,590.80 C455.50,590.80 467.50,589.20 467.50,589.20 C467.50,589.20 479.50,587.40 479.50,587.40 C479.50,587.40 491.50,584.60 491.50,584.60 C491.50,584.60 503.50,581.50 503.50,581.50 C503.50,581.50 515.50,578.50 515.50,578.50 C515.50,578.50 527.50,576.20 527.50,576.20 C527.50,576.20 539.50,571.60 539.50,571.60 C539.50,571.60 551.50,568.10 551.50,568.10 C551.50,568.10 563.50,564.70 563.50,564.70 C563.50,564.70 575.50,561.20 575.50,561.20 C575.50,561.20 587.50,557.80 587.50,557.80 C587.50,557.80 599.50,554.70 599.50,554.70 C599.50,554.70 611.50,552.70 611.50,552.70 C611.50,552.70 623.50,551.60 623.50,551.60 C623.50,551.60 635.50,551.20 635.50,551.20 C635.50,551.20 647.50,550.70 647.50,550.70 C647.50,550.70 659.50,550.20 659.50,550.20 C659.50,550.20 671.50,550.20 671.50,550.20 C671.50,550.20 683.50,551.10 683.50,551.10 C683.50,551.10 695.50,552.90 695.50,552.90 C695.50,552.90 707.50,557.30 707.50,557.30 C707.50,557.30 719.50,561.60 719.50,561.60 C719.50,561.60 731.50,566.00 731.50,566.00 C731.50,566.00 743.50,569.00 743.50,569.00 C743.50,569.00 755.50,571.80 755.50,571.80 C755.50,571.80 767.50,574.00 767.50,574.00 C767.50,574.00 779.50,575.40 779.50,575.40 C779.50,575.40 791.50,576.10 791.50,576.10" fill="none" stroke="#e47a36" stroke-width="1.1"/><path d="M-0.50,613.20 C-0.50,613.20 11.50,614.60 11.50,614.60 C11.50,614.60 23.50,616.50 23.50,616.50 C23.50,616.50 35.50,615.40 35.50,615.40 C35.50,615.40 47.50,616.90 47.50,616.90 C47.50,616.90 59.50,622.30 59.50,622.30 C59.50,622.30 71.50,623.80 71.50,623.80 C71.50,623.80 83.50,625.10 83.50,625.10 C83.50,625.10 95.50,627.40 95.50,627.40 C95.50,627.40 107.50,629.70 107.50,629.70 C107.50,629.70 119.50,632.30 119.50,632.30 C119.50,632.30 131.50,632.60 131.50,632.60 C131.50,632.60 143.50,633.40 143.50,633.40 C143.50,633.40 155.50,631.20 155.50,631.20 C155.50,631.20 167.50,628.50 167.50,628.50 C167.50,628.50 179.50,628.80 179.50,628.80 C179.50,628.80 191.50,630.50 191.50,630.50 C191.50,630.50 203.50,629.20 203.50,629.20 C203.50,629.20 215.50,629.20 215.50,629.20 C215.50,629.20 227.50,629.20 227.50,629.20 C227.50,629.20 239.50,626.60 239.50,626.60 C239.50,626.60 251.50,621.50 251.50,621.50 C251.50,621.50 263.50,615.40 263.50,615.40 C263.50,615.40 275.50,604.60 275.50,604.60 C275.50,604.60 287.50,602.00 287.50,602.00 C287.50,602.00 299.50,596.90 299.50,596.90 C299.50,596.90 311.50,589.20 311.50,589.20 C311.50,589.20 323.50,586.60 323.50,586.60 C323.50,586.60 335.50,585.40 335.50,585.40 C335.50,585.40 347.50,587.20 347.50,587.20 C347.50,587.20 359.50,588.80 359.50,588.80 C359.50,588.80 371.50,589.20 371.50,589.20 C371.50,589.20 383.50,589.20 383.50,589.20 C383.50,589.20 395.50,589.20 395.50,589.20 C395.50,589.20 407.50,588.90 407.50,588.90 C407.50,588.90 419.50,592.30 419.50,592.30 C419.50,592.30 431.50,595.70 431.50,595.70 C431.50,595.70 443.50,598.20 443.50,598.20 C443.50,598.20 455.50,597.70 455.50,597.70 C455.50,597.70 467.50,597.40 467.50,597.40 C467.50,597.40 479.50,595.40 479.50,595.40 C479.50,595.40 491.50,594.60 491.50,594.60 C491.50,594.60 503.50,595.40 503.50,595.40 C503.50,595.40 515.50,593.10 515.50,593.10 C515.50,593.10 527.50,590.00 527.50,590.00 C527.50,590.00 539.50,585.80 539.50,585.80 C539.50,585.80 551.50,582.70 551.50,582.70 C551.50,582.70 563.50,580.40 563.50,580.40 C563.50,580.40 575.50,578.50 575.50,578.50 C575.50,578.50 587.50,574.20 587.50,574.20 C587.50,574.20 599.50,569.60 599.50,569.60 C599.50,569.60 611.50,560.40 611.50,560.40 C611.50,560.40 623.50,554.20 623.50,554.20 C623.50,554.20 635.50,554.20 635.50,554.20 C635.50,554.20 647.50,552.70 647.50,552.70 C647.50,552.70 659.50,548.80 659.50,548.80 C659.50,548.80 671.50,545.00 671.50,545.00 C671.50,545.00 683.50,542.30 683.50,542.30 C683.50,542.30 695.50,540.20 695.50,540.20 C695.50,540.20 707.50,540.90 707.50,540.90 C707.50,540.90 719.50,545.00 719.50,545.00 C719.50,545.00 731.50,550.70 731.50,550.70 C731.50,550.70 743.50,556.40 743.50,556.40 C743.50,556.40 755.50,561.30 755.50,561.30 C755.50,561.30 767.50,566.90 767.50,566.90 C767.50,566.90 779.50,573.60 779.50,573.60 C779.50,573.60 791.50,576.10 791.50,576.10" fill="none" stroke="#4f94d8" stroke-width="1.1"/></g><line x1="837.5" y1="85" x2="837.5" y2="644" stroke="#333" stroke-width="1"/><line x1="9" y1="514.5" x2="907" y2="514.5" stroke="#222" stroke-width="1"/><line x1="9" y1="644.5" x2="907" y2="644.5" stroke="#222" stroke-width="1"/><line x1="838" y1="114.5" x2="842" y2="114.5" stroke="#333" stroke-width="1"/><text x="843.6" y="119.1" font-family="Liberation Sans, sans-serif" font-size="13.3" fill="#333" textLength="36.2" lengthAdjust="spacingAndGlyphs">39.917</text><line x1="838" y1="144.5" x2="842" y2="144.5" stroke="#333" stroke-width="1"/><text x="843.6" y="149.1" font-family="Liberation Sans, sans-serif" font-size="13.3" fill="#333" textLength="36.2" lengthAdjust="spacingAndGlyphs">39.274</text><line x1="838" y1="174.5" x2="842" y2="174.5" stroke="#333" stroke-width="1"/><text x="843.6" y="179.1" font-family="Liberation Sans, sans-serif" font-size="13.3" fill="#333" textLength="36.2" lengthAdjust="spacingAndGlyphs">38.632</text><line x1="838" y1="204.5" x2="842" y2="204.5" stroke="#333" stroke-width="1"/><text x="843.6" y="209.1" font-family="Liberation Sans, sans-serif" font-size="13.3" fill="#333" textLength="36.2" lengthAdjust="spacingAndGlyphs">37.990</text><line x1="838" y1="234.5" x2="842" y2="234.5" stroke="#333" stroke-width="1"/><text x="843.6" y="239.1" font-family="Liberation Sans, sans-serif" font-size="13.3" fill="#333" textLength="36.2" lengthAdjust="spacingAndGlyphs">37.347</text><line x1="838" y1="264.5" x2="842" y2="264.5" stroke="#333" stroke-width="1"/><text x="843.6" y="269.1" font-family="Liberation Sans, sans-serif" font-size="13.3" fill="#333" textLength="36.2" lengthAdjust="spacingAndGlyphs">36.705</text><line x1="838" y1="294.5" x2="842" y2="294.5" stroke="#333" stroke-width="1"/><text x="843.6" y="299.1" font-family="Liberation Sans, sans-serif" font-size="13.3" fill="#333" textLength="36.2" lengthAdjust="spacingAndGlyphs">36.063</text><line x1="838" y1="324.5" x2="842" y2="324.5" stroke="#333" stroke-width="1"/><text x="843.6" y="329.1" font-family="Liberation Sans, sans-serif" font-size="13.3" fill="#333" textLength="36.2" lengthAdjust="spacingAndGlyphs">35.421</text><line x1="838" y1="354.5" x2="842" y2="354.5" stroke="#333" stroke-width="1"/><text x="843.6" y="359.1" font-family="Liberation Sans, sans-serif" font-size="13.3" fill="#333" textLength="36.2" lengthAdjust="spacingAndGlyphs">34.778</text><line x1="838" y1="384.5" x2="842" y2="384.5" stroke="#333" stroke-width="1"/><text x="843.6" y="389.1" font-family="Liberation Sans, sans-serif" font-size="13.3" fill="#333" textLength="36.2" lengthAdjust="spacingAndGlyphs">34.136</text><line x1="838" y1="414.5" x2="842" y2="414.5" stroke="#333" stroke-width="1"/><text x="843.6" y="419.1" font-family="Liberation Sans, sans-serif" font-size="13.3" fill="#333" textLength="36.2" lengthAdjust="spacingAndGlyphs">33.494</text><line x1="838" y1="444.5" x2="842" y2="444.5" stroke="#333" stroke-width="1"/><text x="843.6" y="449.1" font-family="Liberation Sans, sans-serif" font-size="13.3" fill="#333" textLength="36.2" lengthAdjust="spacingAndGlyphs">32.852</text><line x1="838" y1="474.5" x2="842" y2="474.5" stroke="#333" stroke-width="1"/><text x="843.6" y="479.1" font-family="Liberation Sans, sans-serif" font-size="13.3" fill="#333" textLength="36.2" lengthAdjust="spacingAndGlyphs">32.209</text><line x1="838" y1="504.5" x2="842" y2="504.5" stroke="#333" stroke-width="1"/><text x="843.6" y="509.1" font-family="Liberation Sans, sans-serif" font-size="13.3" fill="#333" textLength="36.2" lengthAdjust="spacingAndGlyphs">31.567</text><line x1="838" y1="544.5" x2="842" y2="544.5" stroke="#333" stroke-width="1"/><text x="843.6" y="549.1" font-family="Liberation Sans, sans-serif" font-size="13.3" fill="#333" textLength="29.6" lengthAdjust="spacingAndGlyphs">0.563</text><line x1="838" y1="574.5" x2="842" y2="574.5" stroke="#333" stroke-width="1"/><text x="843.6" y="579.1" font-family="Liberation Sans, sans-serif" font-size="13.3" fill="#333" textLength="29.6" lengthAdjust="spacingAndGlyphs">0.040</text><line x1="838" y1="604.5" x2="842" y2="604.5" stroke="#333" stroke-width="1"/><text x="843.6" y="609.1" font-family="Liberation Sans, sans-serif" font-size="13.3" fill="#333" textLength="33.7" lengthAdjust="spacingAndGlyphs">-0.482</text><line x1="838" y1="634.5" x2="842" y2="634.5" stroke="#333" stroke-width="1"/><text x="843.6" y="639.1" font-family="Liberation Sans, sans-serif" font-size="13.3" fill="#333" textLength="33.7" lengthAdjust="spacingAndGlyphs">-1.004</text><text x="843.6" y="268.6" font-family="Liberation Sans, sans-serif" font-size="13.3" fill="#333" textLength="36.2" lengthAdjust="spacingAndGlyphs">36.705</text><rect x="839" y="260" width="68" height="17.5" fill="#08a408"/><line x1="838" y1="268.5" x2="842" y2="268.5" stroke="#e8f8e8" stroke-width="1"/><text x="844.6" y="273.4" font-family="Liberation Sans, sans-serif" font-size="12.6" fill="#f4fff4" textLength="36.6" lengthAdjust="spacingAndGlyphs">36.624</text></svg>
<svg width="910" height="646" style="position:absolute;left:0;top:0" font-family="Liberation Sans, sans-serif">
<text x="19" y="106.5" font-size="13" fill="#222">开:</text>
<text x="37.8" y="106.5" font-size="13" fill="#2e9a2e" textLength="41.2" lengthAdjust="spacingAndGlyphs">36.715</text>
<text x="90.5" y="106.5" font-size="13" fill="#222">高:</text>
<text x="108.8" y="106.5" font-size="13" fill="#2e9a2e" textLength="41.2" lengthAdjust="spacingAndGlyphs">36.760</text>
<text x="162" y="106.5" font-size="13" fill="#222">低:</text>
<text x="180.3" y="106.5" font-size="13" fill="#2e9a2e" textLength="41.2" lengthAdjust="spacingAndGlyphs">36.188</text>
<text x="233.5" y="106.5" font-size="13" fill="#222">收:</text>
<text x="251.2" y="106.5" font-size="13" fill="#2e9a2e" textLength="41.2" lengthAdjust="spacingAndGlyphs">36.371</text>
<text x="19" y="124.5" font-size="13" fill="#c84c7a" textLength="33" lengthAdjust="spacingAndGlyphs">MA5:</text>
<text x="56.5" y="124.5" font-size="13" fill="#c84c7a" textLength="41.2" lengthAdjust="spacingAndGlyphs">36.555</text>
<text x="110.8" y="124.5" font-size="13" fill="#3cb0c2" textLength="41" lengthAdjust="spacingAndGlyphs">MA10:</text>
<text x="156.8" y="124.5" font-size="13" fill="#3cb0c2" textLength="41.2" lengthAdjust="spacingAndGlyphs">36.452</text>
<text x="210.3" y="124.5" font-size="13" fill="#904ca6" textLength="41.5" lengthAdjust="spacingAndGlyphs">MA20:</text>
<text x="256.2" y="124.5" font-size="13" fill="#904ca6" textLength="41.2" lengthAdjust="spacingAndGlyphs">35.160</text>
<text x="19.5" y="529.7" font-size="12" fill="#2e9a2e" textLength="78.5" lengthAdjust="spacingAndGlyphs">MACD:-0.114</text>
<text x="109" y="529.7" font-size="12" fill="#4f94d8" textLength="67" lengthAdjust="spacingAndGlyphs">DIFF:-0.356</text>
<text x="187.8" y="529.7" font-size="12" fill="#e47a36" textLength="65.5" lengthAdjust="spacingAndGlyphs">DEA:-0.299</text>
</svg>
</body></html>
